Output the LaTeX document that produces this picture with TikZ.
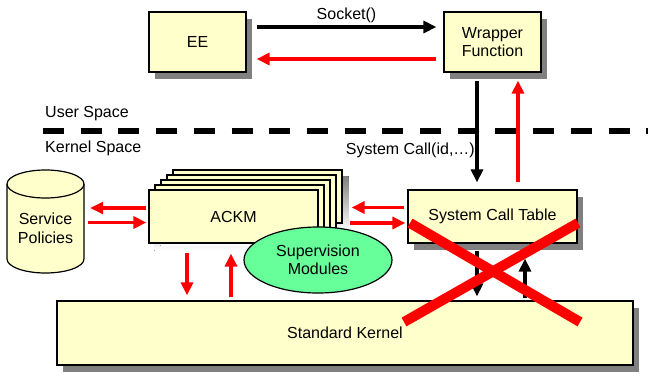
\documentclass[tikz,border=0pt]{standalone}
\usepackage{fontspec}
\setmainfont{Liberation Sans}
\usetikzlibrary{arrows.meta,calc,shadows,backgrounds,shapes.geometric}
\definecolor{boxfill}{HTML}{FFFFCC}
\definecolor{supfill}{HTML}{66FF99}
\definecolor{shade}{HTML}{808080}
\begin{document}
\begin{tikzpicture}[x=1pt,y=-1pt, font=\fontsize{16}{18.5}\selectfont,
  box/.style={draw, line width=1.2pt, fill=boxfill, inner sep=0pt, align=center},
  shd/.style={drop shadow={shadow xshift=6pt, shadow yshift=-7pt, fill=shade, opacity=1}},
  blk/.style={line width=3.1pt, draw=black, -{Triangle[length=13pt,width=12pt]}},
  rarr/.style={line width=3.1pt, draw=red, -{Triangle[length=13pt,width=12pt]}},
  crossline/.style={line width=10pt, draw=red, line cap=butt},
  lbl/.style={inner sep=0pt}]
\useasboundingbox (0,0) rectangle (648,375);

% dashed separator
\coordinate (dl) at (43,130.7);
\coordinate (dr) at (648,130.7);
\draw[line width=6pt, dash pattern=on 21pt off 16.7pt] (dl) -- (dr);
\node[lbl, anchor=west] (us) at (45,114) {User Space};
\node[lbl, anchor=west] (ks) at (45,148.3) {Kernel Space};

% top boxes
\node[box, shd, minimum width=97pt, minimum height=60pt] (ee) at (197.5,42) {EE};
\node[box, shd, minimum width=97pt, minimum height=60pt] (wrap) at (492.5,42) {Wrapper\\Function};

% system call table and kernel
\node[box, shd, minimum width=169pt, minimum height=53pt] (sct) at (492.5,216.5) {System Call Table};
\node[box, shd, minimum width=576pt, minimum height=64pt] (kernel) at (345,333) {Standard Kernel};

% ACKM stack
\foreach \i in {4,3,2,1}
  \node[box, minimum width=169pt, minimum height=53pt] (ackm\i) at (233.5+6*\i, 216.5-5*\i) {};
\node[box, minimum width=169pt, minimum height=53pt] (ackm) at (233.5,216.5) {ACKM};
\begin{pgfonlayer}{background}
  \foreach \n in {ackm,ackm1,ackm2,ackm3,ackm4}
    \fill[shade] ($(\n.south west)+(6,7)$) rectangle ($(\n.north east)+(6,7)$);
\end{pgfonlayer}

% service policies cylinder
\path[draw, line width=1.2pt, fill=boxfill] (7,184) -- (7,259)
  arc[start angle=180, end angle=0, x radius=38.5, y radius=14] -- (84,184);
\draw[line width=1.2pt, fill=boxfill] (45.5,184) ellipse [x radius=38.5, y radius=14];
\node[lbl, minimum width=77pt, align=center] (sp) at (45.5,228.5) {Service\\Policies};

% supervision modules
\node[ellipse, draw, line width=1.2pt, fill=supfill, minimum width=148pt, minimum height=66pt,
  inner sep=0pt, align=center] (sup) at (318,260) {Supervision\\Modules};

% labels
\node[lbl, anchor=east] (scl) at (475,150) {System Call(id,…)};

% connectors
\draw[blk] ($(ee.east)+(10,-15)$) -- node[midway, yshift=12pt] (sock) {Socket()} ($(wrap.west)+(-7,-15)$);
\draw[rarr] ($(wrap.west)+(-7,17)$) -- ($(ee.east)+(10,17)$);
\draw[blk] ($(wrap.south)+(-15.5,8)$) -- ($(sct.north)+(-15.5,-7)$);
\draw[rarr] ($(sct.north)+(25.5,-7)$) -- ($(wrap.south)+(25.5,8)$);

\draw[rarr] ($(sct.west)+(-3,-9)$) -- ($(ackm.east)+(33,-9)$);
\draw[rarr] ($(ackm.east)+(31,6.5)$) -- ($(sct.west)+(-2,6.5)$);

\draw[rarr] ($(ackm.west)+(-2,-8.5)$) -- ($(sp.east |- ackm.west)+(6,-8.5)$);
\draw[rarr] ($(sp.east |- ackm.west)+(4,6)$) -- ($(ackm.west)+(-2,6)$);

\draw[rarr] ($(ackm.south)+(-46.5,9)$) -- ($(kernel.north -| ackm.south)+(-46.5,-5)$);
\draw[rarr] ($(kernel.north -| ackm.south)+(-2.5,-3)$) -- ($(ackm.south)+(-2.5,10)$);

\draw[blk] ($(sct.south)+(-15.5,7)$) -- ($(kernel.north -| sct.south)+(-15.5,-4)$);
\draw[blk] ($(kernel.north -| sct.south)+(32.5,-2)$) -- ($(sct.south)+(32.5,15)$);

% red cross
\draw[crossline] ($(sct.center)+(-82.5,6.5)$) -- ($(sct.center)+(87.5,105.5)$);
\draw[crossline] ($(sct.center)+(85.5,6.5)$) -- ($(sct.center)+(-88.5,105.5)$);
\end{tikzpicture}
\end{document}
